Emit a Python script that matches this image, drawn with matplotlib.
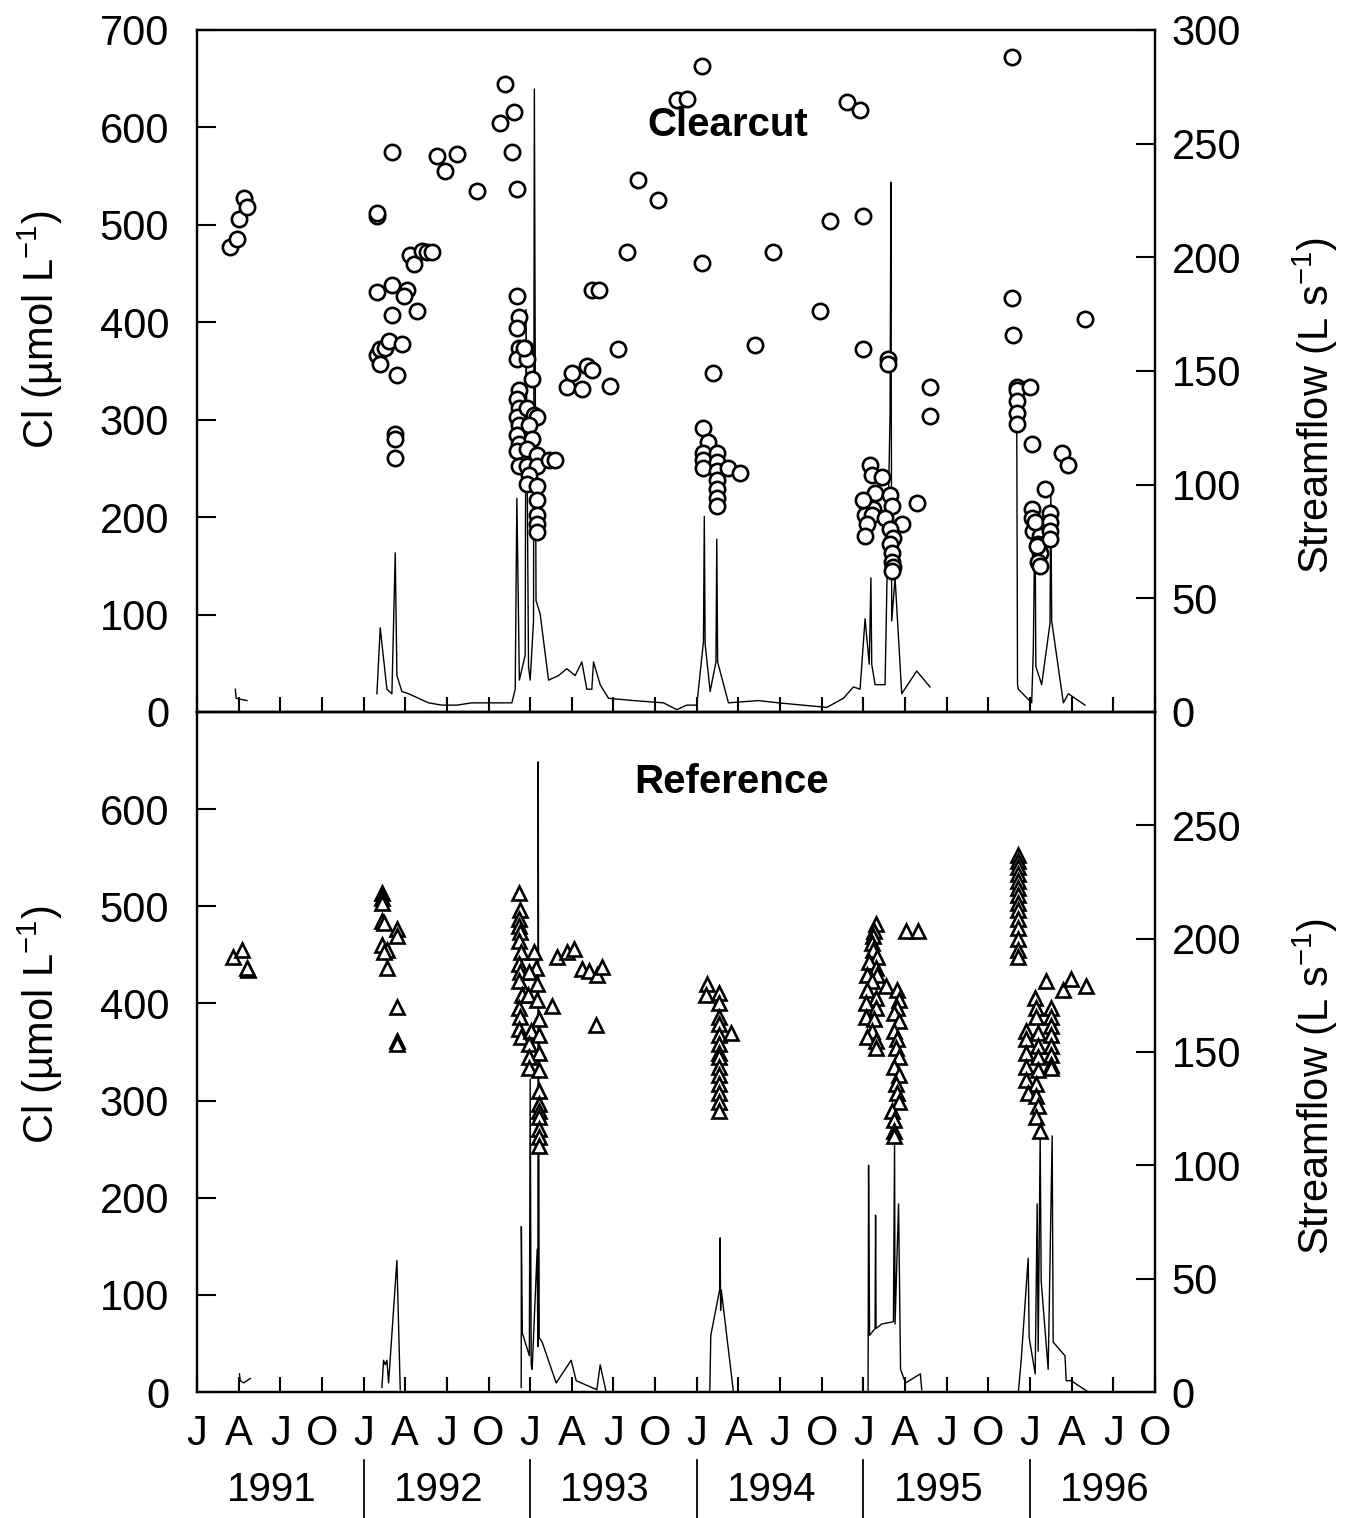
import numpy as np
import matplotlib
matplotlib.use("Agg")
import matplotlib.pyplot as plt
import matplotlib.transforms as mtransforms

plt.rcParams['font.family'] = ['Liberation Sans Narrow', 'Liberation Sans', 'DejaVu Sans']
plt.rcParams['mathtext.fontset'] = 'custom'
plt.rcParams['mathtext.rm'] = 'Liberation Sans'
plt.rcParams['mathtext.it'] = 'Liberation Sans:italic'

# ---- Clearcut watershed: stream Cl (umol/L) and streamflow (L/s) ----
cc_date = [1991.20, 1991.24, 1991.25, 1991.28, 1991.30,
           1992.08, 1992.08, 1992.17, 1992.08, 1992.17, 1992.26, 1992.24, 1992.17, 1992.32,
           1992.28, 1992.30, 1992.35, 1992.38, 1992.41,
           1992.09, 1992.08, 1992.10, 1992.13, 1992.15, 1992.23, 1992.10, 1992.20,
           1992.19, 1992.19, 1992.19, 1992.44, 1992.49, 1992.56, 1992.68,
           1992.82, 1992.85, 1992.89, 1992.90, 1992.92,
           1992.92, 1992.93, 1992.92, 1992.93, 1992.92, 1992.93, 1992.92, 1992.93,
           1992.92, 1992.93, 1992.92, 1992.93, 1992.92, 1992.93,
           1992.97, 1992.98, 1992.96, 1993.01,
           1992.98, 1993.02, 1993.04, 1992.99, 1993.01, 1992.98, 1993.04, 1992.98,
           1993.04, 1992.99, 1992.98, 1993.04, 1993.04, 1993.04, 1993.04, 1993.04,
           1993.11, 1993.15, 1993.22, 1993.31, 1993.25, 1993.34, 1993.37, 1993.48,
           1993.53, 1993.37, 1993.41, 1993.58, 1993.65, 1993.77, 1993.88, 1993.94,
           1994.03, 1994.03, 1994.46, 1994.80, 1994.74, 1994.35, 1994.10, 1994.90, 1994.98,
           1994.04, 1994.07, 1994.04, 1994.04, 1994.04, 1994.12, 1994.12, 1994.12,
           1994.12, 1994.12, 1994.12, 1994.12, 1994.19, 1994.26,
           1995.00, 1995.00, 1995.15, 1995.15, 1995.40, 1995.40, 1995.32,
           1995.04, 1995.05, 1995.11, 1995.07, 1995.02, 1995.06, 1995.01, 1995.05,
           1995.02, 1995.01, 1995.00,
           1995.16, 1995.17, 1995.13, 1995.23, 1995.16, 1995.18, 1995.16, 1995.17,
           1995.17, 1995.18, 1995.17,
           1995.89, 1995.89, 1995.90, 1995.92, 1995.92, 1995.92, 1995.92, 1995.92,
           1996.00, 1996.01, 1996.19, 1996.23, 1996.33,
           1996.09, 1996.01, 1996.01, 1996.05, 1996.02, 1996.06, 1996.05, 1996.06,
           1996.05, 1996.06, 1996.03, 1996.04, 1996.12, 1996.12, 1996.12, 1996.12]
cc_cl = [477, 485, 506, 527, 518,
         509, 512, 575, 431, 438, 433, 427, 407, 412,
         469, 460, 473, 472, 472,
         369, 366, 372, 374, 381, 378, 357, 346,
         285, 280, 261, 571, 555, 573, 535,
         604, 644, 575, 616, 537,
         427, 405, 394, 374, 362, 330, 321, 312,
         303, 294, 284, 275, 268, 252,
         374, 362, 374, 342,
         312, 305, 303, 294, 280, 270, 264, 252,
         252, 243, 234, 232, 218, 202, 193, 185,
         259, 259, 333, 331, 348, 355, 351, 335,
         372, 433, 433, 472, 546, 525, 628, 629,
         663, 461, 472, 504, 411, 377, 348, 626, 618,
         291, 277, 266, 259, 250, 266, 257, 247,
         238, 229, 220, 211, 250, 245,
         509, 372, 362, 357, 333, 304, 214,
         253, 243, 241, 225, 211, 208, 202, 202,
         193, 181, 218,
         223, 211, 199, 193, 188, 179, 172, 163,
         154, 149, 145,
         672, 425, 387, 333, 330, 319, 307, 296,
         334, 275, 266, 253, 403,
         229, 208, 199, 193, 186, 181, 172, 163,
         154, 150, 195, 170, 204, 195, 186, 177]

cc_q_date = [1991.23, 1991.235, 1991.30, np.nan,
             1992.08, 1992.10, 1992.11, 1992.14, 1992.17, 1992.19, 1992.20, 1992.23,
             1992.27, 1992.33, 1992.39, 1992.47, 1992.56, 1992.65, 1992.73, 1992.80, 1992.89,
             1992.91, 1992.92, 1992.935, 1992.97, 1992.975, 1992.99, 1993.00, 1993.02,
             1993.025, 1993.035, 1993.06, 1993.11, 1993.17, 1993.22, 1993.27, 1993.31,
             1993.34, 1993.37, 1993.38, 1993.42, 1993.47, 1993.62, 1993.80, 1993.88, 1993.94,
             1994.00, 1994.04, 1994.045, 1994.05, 1994.08, 1994.115, 1994.12, 1994.125,
             1994.19, 1994.37, 1994.49, 1994.78, 1994.88, 1994.94,
             1994.98, 1995.01, 1995.035, 1995.045, 1995.05, 1995.07, 1995.13, 1995.16,
             1995.165, 1995.17, 1995.19, 1995.23, 1995.32, 1995.40, np.nan,
             1995.92, 1995.925, 1995.93, 1996.01, 1996.02, 1996.03, 1996.035, 1996.07,
             1996.12, 1996.125, 1996.13, 1996.20, 1996.23, 1996.27, 1996.33]
cc_q = [10, 6, 5, np.nan,
        8, 37, 30, 10, 8, 70, 16, 9,
        8, 6, 4, 3, 3, 4, 4, 4, 4,
        10, 94, 14, 25, 177, 20, 14, 40,
        274, 49, 43, 14, 16, 19, 16, 22,
        10, 10, 22, 12, 6, 5, 4, 1, 3,
        3, 31, 86, 30, 9, 22, 76, 22,
        4, 5, 4, 2, 6, 11,
        10, 41, 21, 59, 21, 12, 12, 131,
        233, 40, 59, 8, 18, 11, np.nan,
        140, 12, 10, 4, 28, 90, 20, 12,
        39, 98, 40, 4, 8, 6, 3]

# ---- Reference watershed ----
ref_date = [1991.216, 1991.27, 1991.305, 1991.30,
            1992.11, 1992.11, 1992.11, 1992.11, 1992.12, 1992.20, 1992.20, 1992.11,
            1992.14, 1992.12, 1992.14, 1992.20, 1992.20, 1992.20,
            1992.935, 1992.94, 1992.935, 1992.93, 1992.94, 1992.935, 1992.945, 1992.93,
            1992.94, 1992.935, 1992.95, 1992.93, 1992.94, 1992.935, 1992.945,
            1993.024, 1993.036, 1992.994, 1993.042, 1992.988, 1993.042, 1993.054, 1993.006,
            1993.054, 1992.994, 1993.054, 1992.994, 1992.994, 1993.054, 1993.054, 1993.054,
            1993.054, 1993.054, 1993.054, 1993.054, 1993.054,
            1993.132, 1993.162, 1993.222, 1993.264, 1993.312, 1993.354, 1993.402, 1993.432,
            1993.396,
            1994.06, 1994.055, 1994.133, 1994.133, 1994.133, 1994.133, 1994.133, 1994.133,
            1994.133, 1994.133, 1994.133, 1994.133, 1994.133, 1994.133, 1994.133, 1994.133,
            1994.204,
            1995.073, 1995.061, 1995.055, 1995.049, 1995.055, 1995.079, 1995.031, 1995.073,
            1995.019, 1995.079, 1995.049, 1995.019, 1995.133, 1995.073, 1995.013, 1995.073,
            1995.013, 1995.061, 1995.049, 1995.019, 1995.073, 1995.073,
            1995.253, 1995.33,
            1995.199, 1995.211, 1995.199, 1995.181, 1995.211, 1995.181, 1995.199, 1995.193,
            1995.211, 1995.181, 1995.211, 1995.193, 1995.199, 1995.211, 1995.169, 1995.181,
            1995.181, 1995.181,
            1995.929, 1995.929, 1995.929, 1995.929, 1995.929, 1995.929, 1995.929, 1995.929,
            1995.929, 1995.929, 1995.929, 1995.929, 1995.929, 1995.929,
            1996.097, 1996.199, 1996.247, 1996.337,
            1996.031, 1996.037, 1996.037, 1995.977, 1996.049, 1995.977, 1996.049, 1995.977,
            1996.049, 1995.977, 1996.049, 1995.977, 1996.037, 1995.989, 1996.037, 1996.049,
            1996.037, 1996.061,
            1996.127, 1996.127, 1996.127, 1996.127, 1996.127, 1996.127, 1996.127, 1996.127]
ref_cl = [448, 455, 434, 436,
          514, 508, 503, 485, 483, 477, 469, 460,
          455, 453, 436, 396, 361, 358,
          514, 496, 487, 480, 473, 464, 453, 441,
          432, 423, 409, 395, 386, 374, 365,
          453, 436, 432, 420, 409, 404, 384, 372,
          367, 358, 349, 345, 333, 331, 310, 296,
          289, 283, 271, 262, 253,
          397, 448, 453, 456, 435, 433, 429, 437,
          378,
          420, 409, 411, 400, 386, 379, 367, 358,
          349, 345, 335, 326, 317, 308, 299, 289,
          370,
          482, 475, 469, 462, 455, 448, 443, 436,
          429, 429, 423, 414, 418, 406, 400, 395,
          386, 384, 372, 365, 361, 354,
          475, 475,
          414, 404, 395, 390, 382, 372, 363, 354,
          345, 335, 326, 317, 308, 299, 289, 280,
          269, 264,
          553, 547, 540, 533, 526, 519, 512, 503,
          496, 487, 478, 466, 455, 448,
          423, 414, 425, 418,
          406, 395, 386, 372, 370, 363, 356, 349,
          345, 335, 331, 321, 317, 308, 305, 294,
          283, 269,
          395, 386, 377, 367, 356, 347, 337, 333]

ref_q_date = [1991.255, 1991.26, 1991.28, 1991.32, np.nan,
              1992.11, 1992.12, 1992.13, 1992.14, 1992.15, 1992.20, 1992.22, np.nan,
              1992.946, 1992.947, 1992.953, 1992.995, 1993.000, 1993.006, 1993.012, 1993.042,
              1993.046, 1993.048, 1993.054, 1993.072, 1993.156, 1993.246, 1993.276, 1993.40,
              1993.42, 1993.456, np.nan,
              1994.078, 1994.084, 1994.137, 1994.140, 1994.143, 1994.147, 1994.22, np.nan,
              1995.028, 1995.031, 1995.037, 1995.07, 1995.073, 1995.076, 1995.11, 1995.18,
              1995.187, 1995.19, 1995.211, 1995.223, 1995.253, 1995.342, 1995.35, np.nan,
              1995.93, 1995.947, 1995.989, 1995.995, 1996.031, 1996.043, 1996.049, 1996.061,
              1996.067, 1996.109, 1996.133, 1996.139, 1996.21, 1996.217, 1996.247, 1996.349]
ref_q = [8, 5, 4, 6, np.nan,
         2, 14, 12, 14, 4, 58, 1, np.nan,
         2, 73, 26, 16, 138, 12, 10, 63,
         20, 278, 24, 22, 4, 14, 5, 1,
         12, 0, np.nan,
         0, 25, 45, 68, 36, 45, 0, np.nan,
         0, 100, 25, 28, 78, 28, 30, 31,
         110, 30, 83, 10, 4, 8, 1, np.nan,
         0, 14, 59, 24, 8, 83, 18, 113,
         49, 10, 113, 22, 16, 5, 5, 0]

month_labels = ['J', 'A', 'J', 'O'] * 6
years = [1991, 1992, 1993, 1994, 1995, 1996]

fig = plt.figure(figsize=(13.51, 15.18), dpi=100)
ax_top = fig.add_axes([0.1458, 0.531, 0.7091, 0.4493])
ax_bot = fig.add_axes([0.1458, 0.083, 0.7091, 0.448], sharex=ax_top)

panels = [(ax_top, cc_date, cc_cl, cc_q_date, cc_q, 'o', 'Clearcut', (0.554, 0.861)),
          (ax_bot, ref_date, ref_cl, ref_q_date, ref_q, '^', 'Reference', (0.558, 0.897))]

quarters = np.arange(1991.0, 1996.76, 0.25)

for ax, d, cl, qd, q, mk, name, tpos in panels:
    axq = ax.twinx()
    axq.plot(qd, q, color='black', lw=1.0)
    axq.set_ylim(0, 300)
    # keep the Cl markers above the streamflow trace
    ax.set_zorder(axq.get_zorder() + 1)
    ax.patch.set_visible(False)
    ax.plot(d, cl, linestyle='none', marker=mk, markersize=11 if mk == 'o' else 10.5,
            markerfacecolor='white', markeredgecolor='black', markeredgewidth=1.9)
    ax.set_ylim(0, 700)
    ax.set_xlim(1991.0, 1996.75)
    ax.set_xticks(quarters)
    ax.tick_params(axis='x', direction='in', length=11, width=1.5, labelsize=30, pad=16)
    ax.tick_params(axis='y', direction='in', length=14, width=1.5, labelsize=30, pad=20)
    axq.tick_params(axis='y', direction='in', length=14, width=1.5, labelsize=30, pad=12)
    for a in (ax, axq):
        for s in a.spines.values():
            s.set_linewidth(1.6)
    ax.text(tpos[0], tpos[1], name, transform=ax.transAxes, ha='center', va='center',
            fontsize=29, fontweight='bold', family=['Liberation Sans', 'DejaVu Sans'])
    ax.panel_q = axq

ax_top.set_yticks(range(0, 701, 100))
ax_top.panel_q.set_yticks(range(0, 301, 50))
ax_bot.set_yticks(range(0, 601, 100))
ax_bot.panel_q.set_yticks(range(0, 251, 50))
ax_top.tick_params(axis='x', labelbottom=False)
ax_bot.set_xticklabels(month_labels)

# axis titles
for ax, ly, ry in [(ax_top, 0.56, 0.45), (ax_bot, 0.54, 0.449)]:
    ax.text(-0.164, ly, 'Cl (\u00b5mol L$^{-1}$)', transform=ax.transAxes, rotation=90,
            ha='center', va='center', fontsize=30)
    ax.text(1.167, ry, 'Streamflow (L s$^{-1}$)', transform=ax.transAxes, rotation=90,
            ha='center', va='center', fontsize=30)

# year labels and separators under the month letters
trans = mtransforms.blended_transform_factory(ax_bot.transData, ax_bot.transAxes)
for yr in years:
    ax_bot.text(yr + 0.45, -0.144, str(yr), transform=trans, ha='center', va='center',
                fontsize=29)
    if yr > 1991:
        ax_bot.plot([yr, yr], [-0.1, -0.19], transform=trans, color='black', lw=1.3,
                    clip_on=False)

fig.savefig('out.png', dpi=100)
